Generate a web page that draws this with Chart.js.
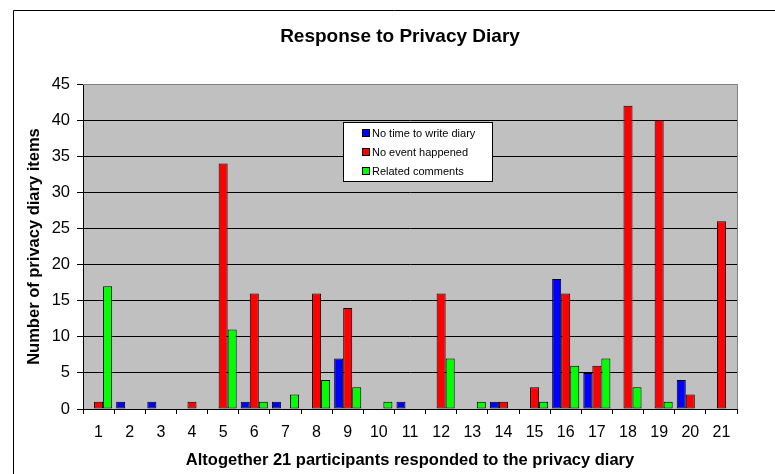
<!DOCTYPE html>
<html>
<head>
<meta charset="utf-8">
<script src="https://cdn.jsdelivr.net/npm/chart.js@4/dist/chart.umd.min.js"></script>
<style>
  html, body { margin: 0; padding: 0; background: #ffffff; }
  #wrap { width: 775px; height: 474px; }
</style>
</head>
<body>
<div id="wrap"><canvas id="chart" width="775" height="474"></canvas></div>
<script>
// Participants and their diary responses
const participants = ['1','2','3','4','5','6','7','8','9','10','11','12','13','14','15','16','17','18','19','20','21'];
const noTime   = [0, 1, 1, 0, 0, 1, 1, 0, 7, 0, 1, 0, 0, 1, 0, 18, 5, 0, 0, 4, 0];
const noEvent  = [1, 0, 0, 1, 34, 16, 0, 16, 14, 0, 0, 16, 0, 1, 3, 16, 6, 42, 40, 2, 26];
const comments = [17, 0, 0, 0, 11, 1, 2, 4, 3, 1, 0, 7, 1, 0, 1, 6, 7, 3, 1, 0, 0];

const seriesNames = ['No time to write diary', 'No event happened', 'Related comments'];
const chartTitle = 'Response to Privacy Diary';
const xTitle = 'Altogether 21 participants responded to the privacy diary';
const yTitle = 'Number of privacy diary items';

const FONT = '"Liberation Sans", Arial, Helvetica, sans-serif';

// Outer frame, grey plot background, plot border, title and boxed legend
const decorations = {
  id: 'decorations',
  beforeDraw(chart) {
    const { ctx, chartArea: a } = chart;
    ctx.save();
    ctx.fillStyle = '#ffffff';
    ctx.fillRect(0, 0, chart.width, chart.height);
    ctx.strokeStyle = '#000000';
    ctx.lineWidth = 1;
    ctx.beginPath();
    ctx.moveTo(13.5, chart.height);
    ctx.lineTo(13.5, 10.5);
    ctx.lineTo(chart.width, 10.5);
    ctx.stroke();
    ctx.fillStyle = '#c0c0c0';
    ctx.fillRect(a.left, a.top, a.right - a.left, a.bottom - a.top);
    ctx.restore();
  },
  beforeDatasetsDraw(chart) {
    const { ctx, chartArea: a } = chart;
    ctx.save();
    ctx.strokeStyle = '#808080';
    ctx.lineWidth = 1;
    ctx.beginPath();
    ctx.moveTo(a.left, Math.round(a.top) + 0.5);
    ctx.lineTo(Math.round(a.right) + 0.5, Math.round(a.top) + 0.5);
    ctx.lineTo(Math.round(a.right) + 0.5, a.bottom);
    ctx.stroke();
    ctx.restore();
  },
  afterDraw(chart) {
    const { ctx } = chart;
    ctx.save();
    // title
    ctx.fillStyle = '#000000';
    ctx.font = 'bold 19px ' + FONT;
    ctx.textAlign = 'center';
    ctx.textBaseline = 'middle';
    ctx.fillText(chartTitle, 400, 37);

    // legend box
    const bx = 343.5, by = 122.5, bw = 149, bh = 59;
    ctx.fillStyle = '#ffffff';
    ctx.fillRect(bx, by, bw, bh);
    ctx.strokeStyle = '#000000';
    ctx.lineWidth = 1;
    ctx.strokeRect(bx, by, bw, bh);
    ctx.font = '11px ' + FONT;
    ctx.textAlign = 'left';
    ctx.textBaseline = 'middle';
    chart.data.datasets.forEach((ds, i) => {
      const cy = 133 + i * 19;
      ctx.fillStyle = ds.backgroundColor;
      ctx.fillRect(362.5, cy - 3.5, 7, 7);
      ctx.strokeStyle = '#000000';
      ctx.strokeRect(362.5, cy - 3.5, 7, 7);
      ctx.fillStyle = '#000000';
      ctx.fillText(ds.label, 372, cy + 0.5);
    });
    ctx.restore();
  }
};

new Chart(document.getElementById('chart'), {
  type: 'bar',
  data: {
    labels: participants,
    datasets: [
      { label: seriesNames[0], data: noTime,   backgroundColor: '#0000ff' },
      { label: seriesNames[1], data: noEvent,  backgroundColor: '#ff0000' },
      { label: seriesNames[2], data: comments, backgroundColor: '#00ff00' }
    ]
  },
  options: {
    responsive: false,
    devicePixelRatio: 1,
    animation: false,
    layout: { padding: { left: 14, right: 38, top: 84, bottom: 0 } },
    datasets: {
      bar: {
        borderColor: '#000000',
        borderWidth: 1,
        borderSkipped: false,
        categoryPercentage: 0.87,
        barPercentage: 1.0
      }
    },
    plugins: {
      legend: { display: false },
      title: { display: false },
      tooltip: { enabled: false }
    },
    scales: {
      x: {
        offset: true,
        grid: {
          offset: true,
          drawOnChartArea: false,
          drawTicks: true,
          tickLength: 5,
          color: '#000000'
        },
        border: { display: true, color: '#000000', width: 1 },
        ticks: {
          color: '#000000',
          font: { family: FONT, size: 16 },
          padding: 9,
          maxRotation: 0,
          autoSkip: false
        },
        title: {
          display: true,
          text: xTitle,
          color: '#000000',
          font: { family: FONT, size: 16.5, weight: 'bold' },
          padding: { top: 4, bottom: 4 }
        },
        afterFit(scale) { scale.height = 65; }
      },
      y: {
        min: 0,
        max: 45,
        ticks: {
          stepSize: 5,
          color: '#000000',
          font: { family: FONT, size: 16.5 },
          padding: 7
        },
        grid: {
          color: (c) => (c.tick && c.tick.value === 45 ? '#808080' : '#000000'),
          tickColor: '#000000',
          lineWidth: 1,
          tickLength: 6,
          drawTicks: true
        },
        border: { display: true, color: '#000000', width: 1 },
        title: {
          display: true,
          text: yTitle,
          color: '#000000',
          font: { family: FONT, size: 16.5, weight: 'bold' },
          padding: { top: 11, bottom: 4 }
        },
        afterFit(scale) { scale.width = 69; }
      }
    }
  },
  plugins: [decorations]
});
</script>
</body>
</html>
